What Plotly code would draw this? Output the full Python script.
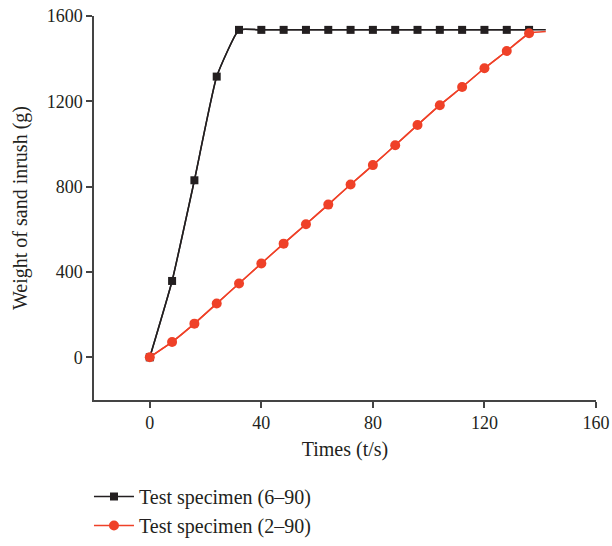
import plotly.graph_objects as go

t_black = [0, 8, 16, 24, 32, 40, 48, 56, 64, 72, 80, 88, 96, 104, 112, 120, 128, 136]
w_black = [0, 358, 830, 1316, 1535, 1535, 1535, 1535, 1535, 1535, 1535, 1535, 1535, 1535, 1535, 1535, 1535, 1535]
t_black_end = 142
w_black_end = 1535

t_red = [0, 8, 16, 24, 32, 40, 48, 56, 64, 72, 80, 88, 96, 104, 112, 120, 128, 136]
w_red = [0, 72, 158, 252, 346, 440, 533, 624, 716, 810, 901, 994, 1089, 1182, 1267, 1355, 1436, 1519]
t_red_end = 142
w_red_end = 1527

BLACK = "#231f20"
RED = "#ef4128"
FONT = "Liberation Serif"

fig = go.Figure()
fig.add_trace(go.Scatter(x=t_black + [t_black_end], y=w_black + [w_black_end], mode="lines",
                         line=dict(color=BLACK, width=1.5, shape="spline", smoothing=0.4),
                         showlegend=False, hoverinfo="skip"))
fig.add_trace(go.Scatter(x=t_red + [t_red_end], y=w_red + [w_red_end], mode="lines",
                         line=dict(color=RED, width=1.5, shape="spline", smoothing=0.4),
                         showlegend=False, hoverinfo="skip"))
fig.add_trace(go.Scatter(x=t_black, y=w_black, mode="lines+markers", name="Test specimen (6–90)",
                         line=dict(color=BLACK, width=1.5, shape="spline", smoothing=0.4),
                         marker=dict(symbol="square", size=8, color=BLACK)))
fig.add_trace(go.Scatter(x=t_red, y=w_red, mode="lines+markers", name="Test specimen (2–90)",
                         line=dict(color=RED, width=1.5, shape="spline", smoothing=0.4),
                         marker=dict(symbol="circle", size=10, color=RED)))

axis_common = dict(showgrid=False, zeroline=False, showline=True, linecolor="#444", linewidth=1.5,
                   ticks="outside", ticklen=6, tickcolor="#444", tickwidth=1.5, automargin=False,
                   tickfont=dict(family=FONT, size=18, color="#231f20"))

H = 546
TOP = 16
PLOT_BOTTOM = 400
area_h = H - TOP
fig.update_layout(
    width=612, height=H,
    margin=dict(l=94, r=16, t=TOP, b=0),
    paper_bgcolor="white", plot_bgcolor="white",
    font=dict(family=FONT, size=18, color="#231f20"),
    xaxis=dict(range=[-20, 160], tickvals=[0, 40, 80, 120, 160],
               title=dict(text="Times (t/s)", font=dict(family=FONT, size=20), standoff=10),
               **axis_common),
    yaxis=dict(range=[-200, 1600], tickvals=[0, 400, 800, 1200, 1600],
               domain=[(H - PLOT_BOTTOM) / area_h, 1],
               title=dict(text="Weight of sand inrush (g)", font=dict(family=FONT, size=20), standoff=14),
               **axis_common),
    legend=dict(x=-0.01, y=(H - 477) / area_h, xanchor="left", yanchor="top",
                orientation="v", itemwidth=40,
                font=dict(family=FONT, size=20), tracegroupgap=6, bgcolor="rgba(0,0,0,0)"),
    showlegend=True,
)

fig.write_html("out.html")
